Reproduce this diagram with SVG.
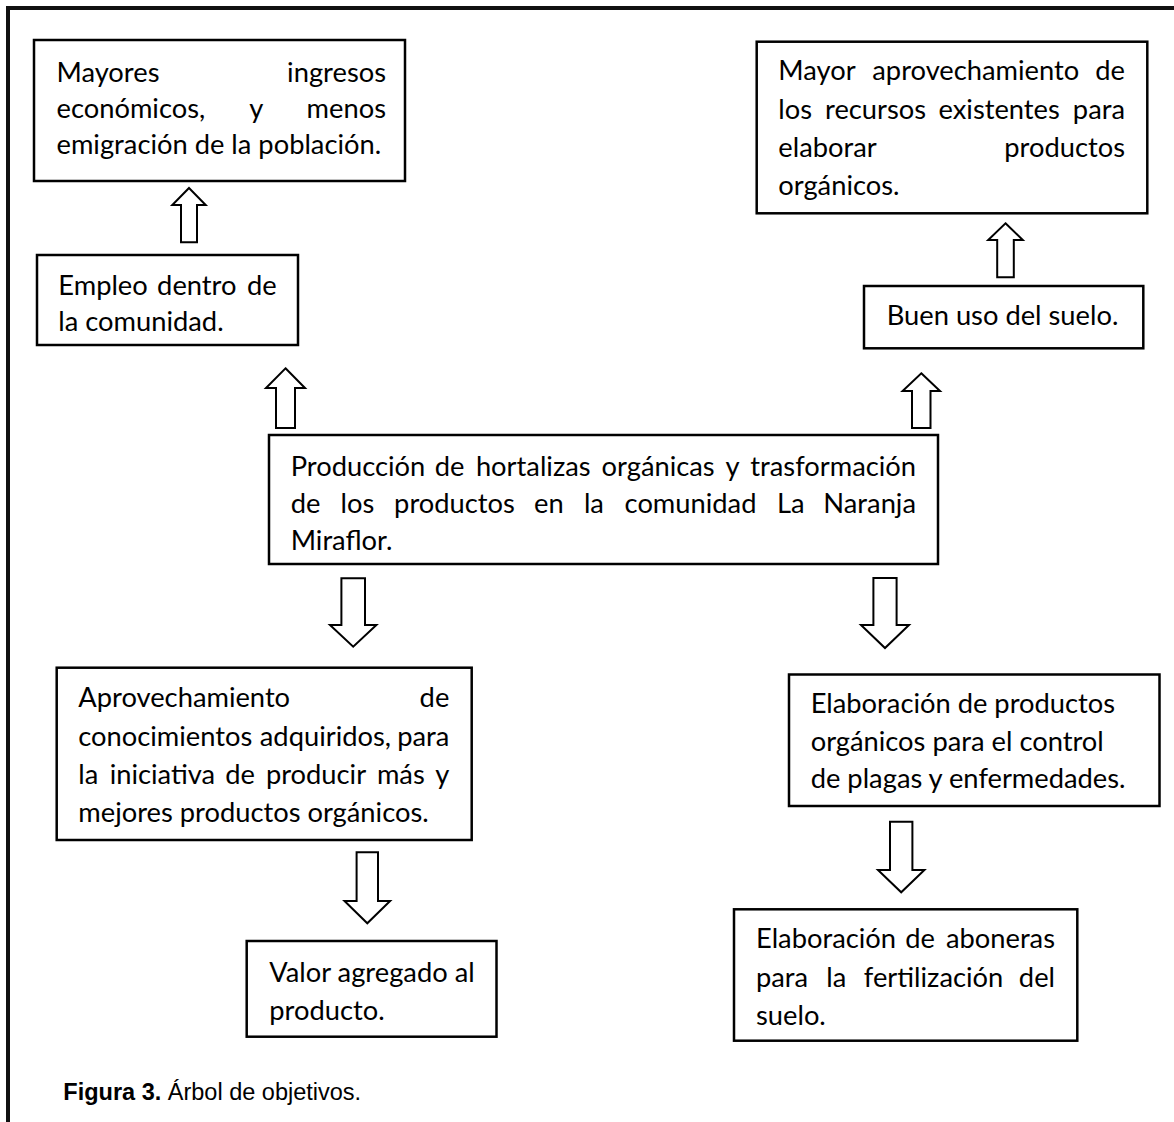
<svg xmlns="http://www.w3.org/2000/svg" width="1174" height="1122" viewBox="0 0 1174 1122">
<style>
.box{fill:#fff;stroke:#000;stroke-width:2.5}
.t{font-family:Lato,"Open Sans","Liberation Sans",sans-serif;font-size:27.3px;fill:#000}
.e{text-anchor:end}
.arr{fill:#fff;stroke:#000;stroke-width:2;stroke-linejoin:miter}
.cap{font-family:"Liberation Sans",Arial,sans-serif;font-size:23.5px;fill:#000}
</style>
<rect x="0" y="0" width="1174" height="1122" fill="#fff"/>
<g id="frame" fill="none" stroke="#111" stroke-width="4">
<path d="M8,1122 V8 H1174"/>
</g>
<g id="connectors">
<path class="arr" d="M189,188 L205.7,205 L197,205 L197,242.3 L181,242.3 L181,205 L172.3,205 Z"/>
<path class="arr" d="M285.5,368.3 L305,388 L295,388 L295,428 L276,428 L276,388 L266,388 Z"/>
<path class="arr" d="M1005.5,223.3 L1022.8,240 L1013.8,240 L1013.8,277.3 L997.2,277.3 L997.2,240 L988.2,240 Z"/>
<path class="arr" d="M921.3,373.3 L940,391 L930.5,391 L930.5,428 L912,428 L912,391 L902.6,391 Z"/>
<path class="arr" d="M341.4,578.3 L365,578.3 L365,625 L376.4,625 L353.2,646.7 L330,625 L341.4,625 Z"/>
<path class="arr" d="M873.4,578 L896.6,578 L896.6,625 L909,625 L885,648 L861,625 L873.4,625 Z"/>
<path class="arr" d="M356.6,852.3 L378,852.3 L378,901 L390.1,901 L367.3,923.3 L344.5,901 L356.6,901 Z"/>
<path class="arr" d="M890,821.7 L912.4,821.7 L912.4,870 L924.4,870 L901.2,892.3 L878,870 L890,870 Z"/>
</g>
<g id="n1">
<rect class="box" x="34" y="40" width="371" height="141"/>
<text class="t" y="81.7"><tspan x="56.5">Mayores</tspan></text>
<text class="t e" x="386" y="81.7">ingresos</text>
<text class="t" y="118"><tspan x="56.5">económicos,</tspan><tspan x="249.2">y</tspan></text>
<text class="t e" x="386" y="118">menos</text>
<text class="t" x="56.5" y="154">emigración de la población.</text>
</g>
<g id="n2">
<rect class="box" x="37" y="255" width="261" height="90"/>
<text class="t" y="294.5"><tspan x="58.3">Empleo</tspan><tspan x="157.1">dentro</tspan></text>
<text class="t e" x="276.7" y="294.5">de</text>
<text class="t" x="58.3" y="331">la comunidad.</text>
</g>
<g id="n3">
<rect class="box" x="756.7" y="41.7" width="390.6" height="171.6"/>
<text class="t" y="80"><tspan x="778.3">Mayor</tspan><tspan x="872.3">aprovechamiento</tspan></text>
<text class="t e" x="1125" y="80">de</text>
<text class="t" y="119"><tspan x="778.3">los</tspan><tspan x="825">recursos</tspan><tspan x="938.5">existentes</tspan></text>
<text class="t e" x="1125" y="119">para</text>
<text class="t" x="778.3" y="157">elaborar</text>
<text class="t e" x="1125" y="157">productos</text>
<text class="t" x="778.3" y="195">orgánicos.</text>
</g>
<g id="n4">
<rect class="box" x="864" y="286" width="279.3" height="62.3"/>
<text class="t" x="886.7" y="325">Buen uso del suelo.</text>
</g>
<g id="n5">
<rect class="box" x="269" y="435" width="669" height="129"/>
<text class="t" y="476"><tspan x="290.7">Producción</tspan><tspan x="434.7">de</tspan><tspan x="475.9">hortalizas</tspan><tspan x="601.6">orgánicas</tspan><tspan x="725.4">y</tspan></text>
<text class="t e" x="916" y="476">trasformación</text>
<text class="t" y="513"><tspan x="290.7">de</tspan><tspan x="340.6">los</tspan><tspan x="394.1">productos</tspan><tspan x="534">en</tspan><tspan x="583.9">la</tspan><tspan x="624.6">comunidad</tspan><tspan x="777">La</tspan></text>
<text class="t e" x="916" y="513">Naranja</text>
<text class="t" x="290.7" y="550">Miraflor.</text>
</g>
<g id="n6">
<rect class="box" x="56.7" y="667.7" width="415" height="172.3"/>
<text class="t" x="78.3" y="706.7">Aprovechamiento</text>
<text class="t e" x="449.3" y="706.7">de</text>
<text class="t" y="745.5"><tspan x="78.3">conocimientos</tspan><tspan x="259.8">adquiridos,</tspan></text>
<text class="t e" x="449.3" y="745.5">para</text>
<text class="t" y="783.5"><tspan x="78.3">la</tspan><tspan x="109.7">iniciativa</tspan><tspan x="225.3">de</tspan><tspan x="265.9">producir</tspan><tspan x="376.9">más</tspan></text>
<text class="t e" x="449.3" y="783.5">y</text>
<text class="t" x="78.3" y="821.5">mejores productos orgánicos.</text>
</g>
<g id="n7">
<rect class="box" x="246.7" y="941" width="249.8" height="95.7"/>
<text class="t" x="269.3" y="981.7">Valor agregado al</text>
<text class="t" x="269.3" y="1020">producto.</text>
</g>
<g id="n8">
<rect class="box" x="789" y="674.5" width="370.5" height="131.5"/>
<text class="t" x="810.7" y="713.3">Elaboración de productos</text>
<text class="t" x="810.7" y="750.7">orgánicos para el control</text>
<text class="t" x="810.7" y="788.3">de plagas y enfermedades.</text>
</g>
<g id="n9">
<rect class="box" x="734" y="909.3" width="343.3" height="131.4"/>
<text class="t" y="948"><tspan x="756">Elaboración</tspan><tspan x="905.3">de</tspan></text>
<text class="t e" x="1055" y="948">aboneras</text>
<text class="t" y="986.5"><tspan x="756">para</tspan><tspan x="826.2">la</tspan><tspan x="863.8">fertilización</tspan></text>
<text class="t e" x="1055" y="986.5">del</text>
<text class="t" x="756" y="1025">suelo.</text>
</g>
<g id="caption">
<text class="cap" x="63.3" y="1100"><tspan font-weight="bold">Figura 3.</tspan> Árbol de objetivos.</text>
</g>
</svg>
